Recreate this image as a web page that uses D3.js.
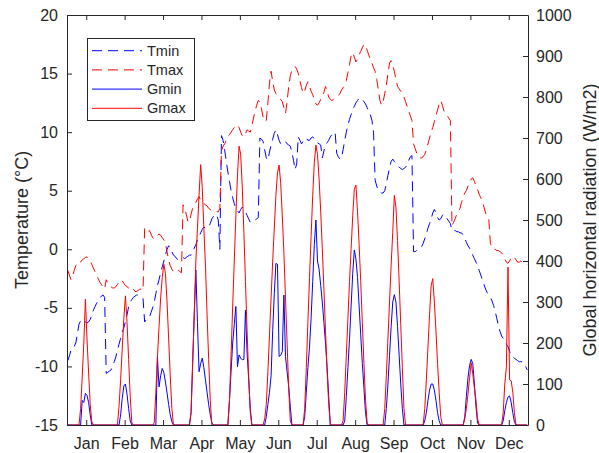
<!DOCTYPE html>
<html><head><meta charset="utf-8">
<script src="https://cdn.jsdelivr.net/npm/d3@7"></script>
<style>
body{margin:0;background:#fff}
svg{display:block}
text{font-family:"Liberation Sans",Arial,Helvetica,sans-serif;fill:#262626}
</style>
</head><body>
<svg id="chart" width="599" height="453"></svg>
<script>
// ---------- data ----------
const months = ["Jan","Feb","Mar","Apr","May","Jun","Jul","Aug","Sep","Oct","Nov","Dec"];
const tempTicks = [-15,-10,-5,0,5,10,15,20];
const radTicks = [0,100,200,300,400,500,600,700,800,900,1000];
const legendLabels = ["Tmin","Tmax","Gmin","Gmax"];

// hourly values (24 per month) — temperature in °C
const tmin = [
 [-9.5,-9.1,-8.6,-8.4,-8.3,-8.0,-7.2,-6.4,-6.1,-6.2,-6.1,-6.2,-6.3,-6.2,-6.0,-5.6,-5.2,-4.9,-4.6,-4.4,-4.2,-4.0,-3.9,-4.1],
 [-10.6,-10.5,-10.4,-10.3,-10.0,-9.6,-9.2,-8.6,-8.1,-7.6,-7.1,-6.7,-6.2,-5.6,-4.9,-4.5,-4.3,-4.1,-4.0,-3.9,-3.9,-4.0,-4.1,-4.2],
 [-6.2,-6.0,-5.9,-5.8,-5.4,-5.0,-4.5,-3.8,-3.1,-2.6,-2.0,-1.5,-1.0,-0.5,0.0,0.3,0.2,-0.2,-0.5,-0.6,-0.8,-0.9,-0.8,-0.7],
 [-0.7,-0.8,-0.7,-0.6,-0.5,-0.5,-0.2,0.1,0.4,0.8,1.1,1.4,1.7,1.9,1.8,1.8,1.9,2.2,2.6,2.8,3.0,2.9,2.5,0.0],
 [9.7,9.3,8.5,7.5,6.6,5.8,5.0,4.4,3.9,3.5,3.3,3.1,3.4,3.6,3.4,3.2,2.9,2.6,2.3,2.3,2.4,2.5,2.6,2.7],
 [9.5,9.4,9.2,8.5,7.8,7.6,8.3,8.9,9.4,9.9,10.2,9.8,9.3,9.0,9.1,9.2,9.2,9.0,8.9,8.8,8.3,7.6,6.8,7.3],
 [9.6,9.3,9.0,9.2,9.4,9.5,9.3,9.3,9.5,9.6,9.4,9.2,9.1,9.0,8.9,7.8,8.4,8.9,9.1,9.3,9.6,9.8,9.9,10.0],
 [8.2,7.9,7.7,7.8,8.5,9.3,10.0,10.6,11.1,11.5,11.9,12.2,12.5,12.7,12.9,12.9,12.8,12.6,12.4,12.1,11.8,11.5,11.0,10.0],
 [5.9,5.4,5.0,4.9,4.8,4.8,5.0,5.6,6.3,7.0,7.5,7.7,7.5,7.3,7.1,7.0,6.9,6.8,6.9,7.0,7.2,7.6,7.9,8.0],
 [-0.2,-0.2,-0.1,0.0,0.1,0.2,0.5,0.9,1.3,1.8,2.2,2.6,3.1,3.4,3.1,2.7,2.5,2.6,2.9,3.0,2.8,2.6,2.4,2.2],
 [1.6,1.6,1.6,1.5,1.5,1.4,1.4,1.2,0.9,0.6,0.3,0.1,-0.2,-0.5,-0.8,-1.1,-1.4,-1.8,-2.2,-2.6,-3.0,-3.4,-3.7,-3.9],
 [-4.1,-4.4,-4.8,-5.3,-5.9,-6.5,-7.0,-7.4,-7.6,-7.8,-8.1,-8.3,-8.7,-9.0,-9.2,-9.3,-9.4,-9.5,-9.6,-9.6,-9.6,-9.8,-10.0,-10.3]
];
const tmax = [
 [-1.8,-2.2,-2.6,-2.3,-1.8,-1.4,-1.2,-1.3,-1.1,-0.9,-0.8,-0.7,-0.65,-0.8,-1.0,-1.3,-1.6,-1.9,-2.2,-2.5,-2.8,-3.0,-3.2,-3.4],
 [-2.6,-2.9,-3.1,-3.2,-3.3,-3.3,-3.2,-3.0,-2.8,-2.6,-2.7,-2.9,-3.1,-3.2,-3.3,-3.3,-3.2,-3.4,-3.6,-3.6,-3.5,-3.4,-3.4,-3.5],
 [1.8,1.6,1.5,1.6,1.3,1.0,0.9,1.0,1.2,1.3,1.2,1.0,0.8,0.5,-0.2,-0.9,-1.4,-1.7,-1.9,-2.0,-1.9,-1.8,-1.9,-2.0],
 [3.8,3.5,3.0,2.4,2.3,3.0,3.5,3.8,4.0,4.3,4.5,4.2,4.0,3.9,3.8,3.7,3.5,3.4,3.3,3.3,3.2,3.2,3.2,3.5],
 [8.4,8.8,9.0,9.3,9.6,9.8,10.0,10.2,10.4,10.6,10.6,10.4,10.0,9.7,9.6,9.9,10.2,10.1,10.0,10.5,11.2,11.8,12.3,12.7],
 [12.6,12.0,11.3,10.9,11.0,12.5,14.2,15.2,14.3,13.6,13.3,13.1,12.9,12.8,12.6,12.1,11.6,12.6,13.9,14.8,15.3,15.5,15.6,15.4],
 [15.0,14.4,13.8,13.3,13.5,14.0,14.3,13.9,13.5,13.2,12.8,12.4,12.3,12.5,12.8,13.0,13.4,13.9,13.5,13.0,12.8,12.7,12.8,12.9],
 [13.0,13.1,13.3,13.6,13.8,14.0,14.4,15.1,15.8,16.5,16.8,16.4,16.0,16.2,16.6,16.9,17.2,17.5,17.4,17.0,16.6,16.2,15.9,15.5],
 [15.2,14.5,13.6,12.7,12.3,12.6,13.3,14.0,15.0,15.9,16.1,15.7,15.2,14.5,13.9,13.7,13.5,13.3,13.0,12.6,12.2,11.8,11.4,11.0],
 [9.0,8.6,8.2,7.9,7.8,7.8,7.9,8.1,8.5,9.0,9.5,10.0,10.4,10.9,11.4,11.9,12.4,12.7,12.3,11.8,11.6,11.4,11.2,11.0],
 [2.0,2.3,2.6,3.0,3.2,3.5,4.0,4.5,4.8,5.0,5.4,5.7,6.0,6.1,5.8,5.4,5.1,4.7,4.4,4.1,3.6,3.1,2.8,2.6],
 [0.5,0.1,0.0,0.0,-0.1,-0.1,-0.2,-0.3,-0.5,-0.8,-1.1,-1.2,-1.0,-0.7,-0.6,-0.7,-0.9,-1.1,-1.1,-1.0,-1.1,-1.2,-1.3,-1.3]
];
// hourly global horizontal radiation, W/m2
const gmin = [
 [0,0,0,0,0,0,0,0,0,60,55,77,72,55,25,0,0,0,0,0,0,0,0,0],
 [0,0,0,0,0,0,0,0,0,25,65,95,100,75,40,10,0,0,0,0,0,0,0,0],
 [0,0,0,0,0,0,0,0,165,93,120,138,128,105,78,50,25,8,0,0,0,0,0,0],
 [0,0,0,0,0,30,150,270,378,250,130,150,163,140,110,80,50,25,5,0,0,0,0,0],
 [0,0,0,0,0,60,130,200,245,289,142,171,163,159,160,280,178,110,40,0,0,0,0,0],
 [0,0,0,0,20,50,80,120,230,320,394,392,167,170,179,317,167,130,93,45,0,0,0,0],
 [0,0,0,0,20,80,140,190,260,350,440,500,400,380,340,300,250,200,140,70,0,0,0,0],
 [0,0,0,0,0,10,70,140,210,290,370,427,405,360,290,220,150,90,30,0,0,0,0,0],
 [0,0,0,0,0,0,0,40,100,170,240,300,318,300,240,170,100,40,0,0,0,0,0,0],
 [0,0,0,0,0,0,0,10,30,60,85,100,100,85,60,30,10,0,0,0,0,0,0,0],
 [0,0,0,0,0,0,0,0,20,70,115,145,160,150,100,45,5,0,0,0,0,0,0,0],
 [0,0,0,0,0,0,0,0,10,35,55,68,71,55,30,8,0,0,0,0,0,0,0,0]
];
const gmax = [
 [0,0,0,0,0,0,0,0,40,117,200,307,210,127,50,8,0,0,0,0,0,0,0,0],
 [0,0,0,0,0,0,0,0,45,110,185,260,315,250,160,70,5,0,0,0,0,0,0,0],
 [0,0,0,0,0,0,5,80,165,240,310,360,392,370,300,210,120,40,0,0,0,0,0,0],
 [0,0,0,0,0,30,150,270,400,480,560,635,580,480,390,270,160,60,0,0,0,0,0,0],
 [0,0,0,0,0,60,170,290,400,510,610,680,660,580,470,350,230,120,30,0,0,0,0,0],
 [0,0,0,15,50,130,220,310,400,480,560,615,634,590,510,420,310,200,90,10,0,0,0,0],
 [0,0,0,0,40,140,250,360,460,560,640,683,660,600,520,430,330,230,130,50,0,0,0,0],
 [0,0,0,0,10,80,170,260,350,430,510,575,585,520,440,350,250,150,60,5,0,0,0,0],
 [0,0,0,0,0,0,40,120,210,300,390,470,560,530,450,350,245,140,40,0,0,0,0,0],
 [0,0,0,0,0,0,0,40,110,190,270,340,357,300,230,150,80,20,0,0,0,0,0,0],
 [0,0,0,0,0,0,0,0,15,40,75,115,152,125,90,60,15,0,0,0,0,0,0,0],
 [0,0,0,0,0,0,0,0,30,100,142,385,110,108,80,30,0,0,0,0,0,0,0,0]
];

// ---------- layout ----------
const L = 67, R = 528, T = 15, B = 425;
const HOURS = 24;
const svg = d3.select("#chart");

const x = d3.scaleLinear().domain([0, months.length * HOURS]).range([L, R]);
const yT = d3.scaleLinear().domain([-15, 20]).range([B, T]);
const yG = d3.scaleLinear().domain([0, 1000]).range([B, T]);

const flat = arr => arr.flatMap((m, mi) => m.map((v, h) => ({ i: mi * HOURS + h + 0.5, v })));

const series = [
  { name: legendLabels[0], data: tmin, y: yT, color: "#0000ff", dash: "10,6" },
  { name: legendLabels[1], data: tmax, y: yT, color: "#ff0000", dash: "10,6" },
  { name: legendLabels[2], data: gmin, y: yG, color: "#0000ff", dash: null },
  { name: legendLabels[3], data: gmax, y: yG, color: "#ff0000", dash: null }
];

// ---------- lines ----------
series.forEach(s => {
  const line = d3.line().x(d => x(d.i)).y(d => s.y(d.v));
  svg.append("path")
    .datum(flat(s.data))
    .attr("d", line)
    .attr("fill", "none")
    .attr("stroke", s.color)
    .attr("stroke-width", 1)
    .attr("stroke-dasharray", s.dash);
});

// ---------- axes ----------
const monthTicks = months.map((m, i) => i * HOURS + HOURS / 2);
const axisColor = "#262626";

function styleAxis(g) {
  g.selectAll("path.domain").attr("stroke", axisColor).attr("stroke-width", 1);
  g.selectAll(".tick line").attr("stroke", axisColor).attr("stroke-width", 1);
  g.selectAll("text").attr("fill", axisColor).style("font-size", "16px")
    .style("font-family", '"Liberation Sans",Arial,Helvetica,sans-serif');
}

svg.append("g").attr("transform", `translate(0,${B})`)
  .call(d3.axisBottom(x).tickValues(monthTicks).tickFormat((d, i) => months[i])
    .tickSizeInner(-5).tickSizeOuter(0).tickPadding(13))
  .call(styleAxis);

svg.append("g").attr("transform", `translate(0,${T})`)
  .call(d3.axisTop(x).tickValues(monthTicks).tickFormat("")
    .tickSizeInner(-5).tickSizeOuter(0))
  .call(styleAxis);

svg.append("g").attr("transform", `translate(${L},0)`)
  .call(d3.axisLeft(yT).tickValues(tempTicks).tickFormat(d3.format("d"))
    .tickSizeInner(-5).tickSizeOuter(0).tickPadding(9))
  .call(styleAxis);

svg.append("g").attr("transform", `translate(${R},0)`)
  .call(d3.axisRight(yG).tickValues(radTicks).tickFormat(d3.format("d"))
    .tickSizeInner(-5).tickSizeOuter(0).tickPadding(8))
  .call(styleAxis);

svg.selectAll(".tick text").text(function () { return this.textContent.replace("−", "-"); });

// axis titles
svg.append("text")
  .attr("transform", `translate(28,${(T + B) / 2}) rotate(-90)`)
  .attr("text-anchor", "middle")
  .style("font-size", "18px")
  .text("Temperature (°C)");

svg.append("text")
  .attr("transform", `translate(596,${(T + B) / 2}) rotate(-90)`)
  .attr("text-anchor", "middle")
  .style("font-size", "18px")
  .text("Global horizontal radiation (W/m2)");

// ---------- legend ----------
const lg = svg.append("g").attr("transform", "translate(87,38)");
lg.append("rect").attr("x", 0.5).attr("y", 0.5).attr("width", 107).attr("height", 82)
  .attr("fill", "#fff").attr("stroke", axisColor).attr("stroke-width", 1);
const items = lg.selectAll("g.item").data(series).join("g")
  .attr("class", "item")
  .attr("transform", (d, i) => `translate(0,${12.7 + i * 19.2})`);
items.append("line").attr("x1", 5).attr("x2", 55).attr("y1", 0).attr("y2", 0)
  .attr("stroke", d => d.color).attr("stroke-width", 1)
  .attr("stroke-dasharray", d => d.dash);
items.append("text").attr("x", 60).attr("y", 0).attr("dy", "0.35em")
  .style("font-size", "14.5px").text(d => d.name);
</script>
</body></html>
